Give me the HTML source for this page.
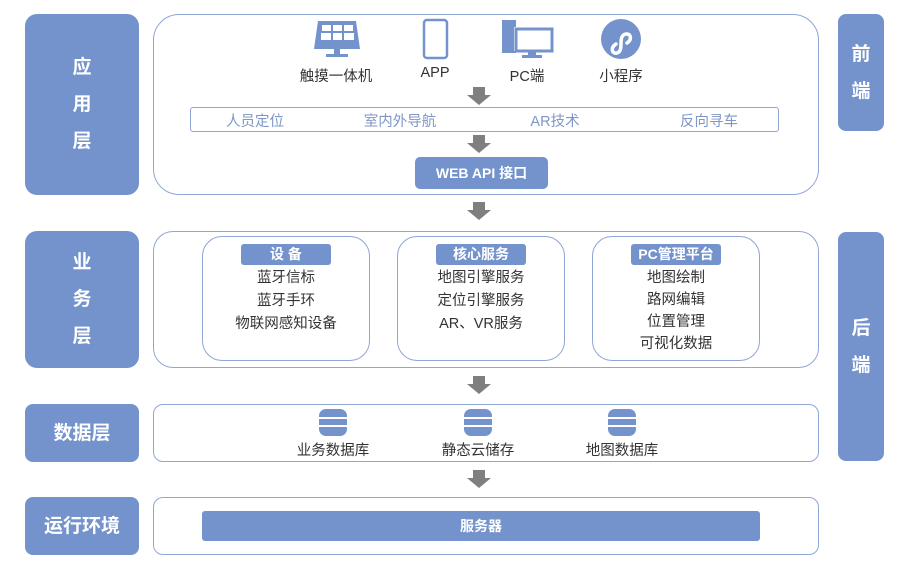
<!DOCTYPE html><html><head><meta charset="utf-8"><style>
body{margin:0;width:907px;height:583px;background:#fff;font-family:"Liberation Sans","Noto Sans CJK SC",sans-serif;position:relative;overflow:hidden}
div{position:absolute;box-sizing:border-box}
.lb{background:#7493cc;color:#fff;font-weight:bold;font-size:19px;display:flex;align-items:center;justify-content:center;text-align:center;line-height:37px;border-radius:12px}
.ct{border:1.5px solid #8fa6d6;background:#fff}
.t{color:#333;font-size:14.5px;text-align:center;white-space:nowrap}
.ib{border:1.5px solid #8fa6d6;border-radius:20px}
.hd{background:#7493cc;color:#fff;font-weight:bold;font-size:14px;text-align:center;border-radius:3px;height:21px;line-height:21px}
.it{font-size:14.5px;color:#333;text-align:center;line-height:23px;width:100%}
</style></head><body>
<div class="lb" style="left:25px;top:14px;width:114px;height:181px;">应<br>用<br>层</div>
<div class="lb" style="left:25px;top:231px;width:114px;height:137px;">业<br>务<br>层</div>
<div class="lb" style="left:25px;top:404px;width:114px;height:58px;border-radius:8px">数据层</div>
<div class="lb" style="left:25px;top:497px;width:114px;height:58px;border-radius:8px">运行环境</div>
<div class="lb" style="left:838px;top:14px;width:46px;height:117px;border-radius:8px">前<br>端</div>
<div class="lb" style="left:838px;top:232px;width:46px;height:229px;border-radius:8px">后<br>端</div>

<div class="ct" style="left:153px;top:14px;width:666px;height:181px;border-radius:26px"></div>
<div class="ct" style="left:153px;top:231px;width:666px;height:137px;border-radius:20px"></div>
<div class="ct" style="left:153px;top:404px;width:666px;height:58px;border-radius:10px"></div>
<div class="ct" style="left:153px;top:497px;width:666px;height:58px;border-radius:10px"></div>

<svg style="position:absolute;left:0;top:0" width="907" height="583">
<g fill="#7493cc">
<path d="M318 21h38l4 28h-46z"/><rect x="334" y="49" width="6" height="5"/><rect x="326" y="54" width="22" height="3"/>
<g fill="#fff"><rect x="322" y="25" width="9" height="6"/><rect x="333" y="25" width="9" height="6"/><rect x="344" y="25" width="9" height="6"/><rect x="321" y="33" width="10" height="7"/><rect x="333" y="33" width="9" height="7"/><rect x="344" y="33" width="10" height="7"/></g>
<rect x="424" y="20" width="23" height="38" rx="3" fill="none" stroke="#7493cc" stroke-width="2.5"/>
<rect x="502" y="20" width="14" height="33"/><rect x="514" y="27" width="38" height="24" fill="#fff"/><rect x="516" y="29" width="36" height="22" fill="none" stroke="#7493cc" stroke-width="3"/><rect x="528" y="51" width="8" height="4"/><rect x="522" y="55" width="20" height="3"/>
<circle cx="621" cy="39" r="20"/>
</g>
<path d="M616 44c-6 4-4 10 1 9 4-1 4-6 4-10 0-5 1-9 6-9 4 0 5 6 0 9" fill="none" stroke="#fff" stroke-width="3.5" stroke-linecap="round"/>
<g fill="#7f7f7f">
<path d="M473 87h12v8h6l-12 10-12-10h6z"/>
<path d="M473 135h12v8h6l-12 10-12-10h6z"/>
<path d="M473 202h12v8h6l-12 10-12-10h6z"/>
<path d="M473 376h12v8h6l-12 10-12-10h6z"/>
<path d="M473 470h12v8h6l-12 10-12-10h6z"/>
</g>
<g fill="#7493cc">
<g id="db"><rect x="319" y="409" width="28" height="27" rx="7"/><rect x="318" y="417" width="30" height="2" fill="#fff"/><rect x="318" y="425" width="30" height="2" fill="#fff"/></g>
<use href="#db" x="145"/><use href="#db" x="289"/>
</g>
</svg>
<div class="t" style="left:296px;top:65px;width:80px">触摸一体机</div>
<div class="t" style="left:405px;top:65px;width:60px">APP</div>
<div class="t" style="left:497px;top:65px;width:60px">PC端</div>
<div class="t" style="left:591px;top:65px;width:60px">小程序</div>

<div class="ct" style="left:190px;top:107px;width:589px;height:25px;border-width:1px;border-radius:3px"></div>
<div class="t" style="left:210px;top:110px;width:90px;color:#7f96c6">人员定位</div>
<div class="t" style="left:355px;top:110px;width:90px;color:#7f96c6">室内外导航</div>
<div class="t" style="left:510px;top:110px;width:90px;color:#7f96c6">AR技术</div>
<div class="t" style="left:664px;top:110px;width:90px;color:#7f96c6">反向寻车</div>

<div class="hd" style="left:415px;top:157px;width:133px;height:32px;line-height:32px;border-radius:5px">WEB API 接口</div>

<div class="ib" style="left:202px;top:236px;width:168px;height:125px"><div class="hd" style="left:38px;top:7px;width:90px">设 备</div><div class="it" style="top:30px">蓝牙信标<br>蓝牙手环<br>物联网感知设备</div></div>
<div class="ib" style="left:397px;top:236px;width:168px;height:125px"><div class="hd" style="left:38px;top:7px;width:90px">核心服务</div><div class="it" style="top:30px">地图引擎服务<br>定位引擎服务<br>AR、VR服务</div></div>
<div class="ib" style="left:592px;top:236px;width:168px;height:125px"><div class="hd" style="left:38px;top:7px;width:90px">PC管理平台</div><div class="it" style="top:30px;line-height:22px">地图绘制<br>路网编辑<br>位置管理<br>可视化数据</div></div>

<div class="t" style="left:283px;top:439px;width:100px">业务数据库</div>
<div class="t" style="left:428px;top:439px;width:100px">静态云储存</div>
<div class="t" style="left:572px;top:439px;width:100px">地图数据库</div>

<div class="hd" style="left:202px;top:511px;width:558px;height:30px;line-height:30px">服务器</div>
</body></html>
